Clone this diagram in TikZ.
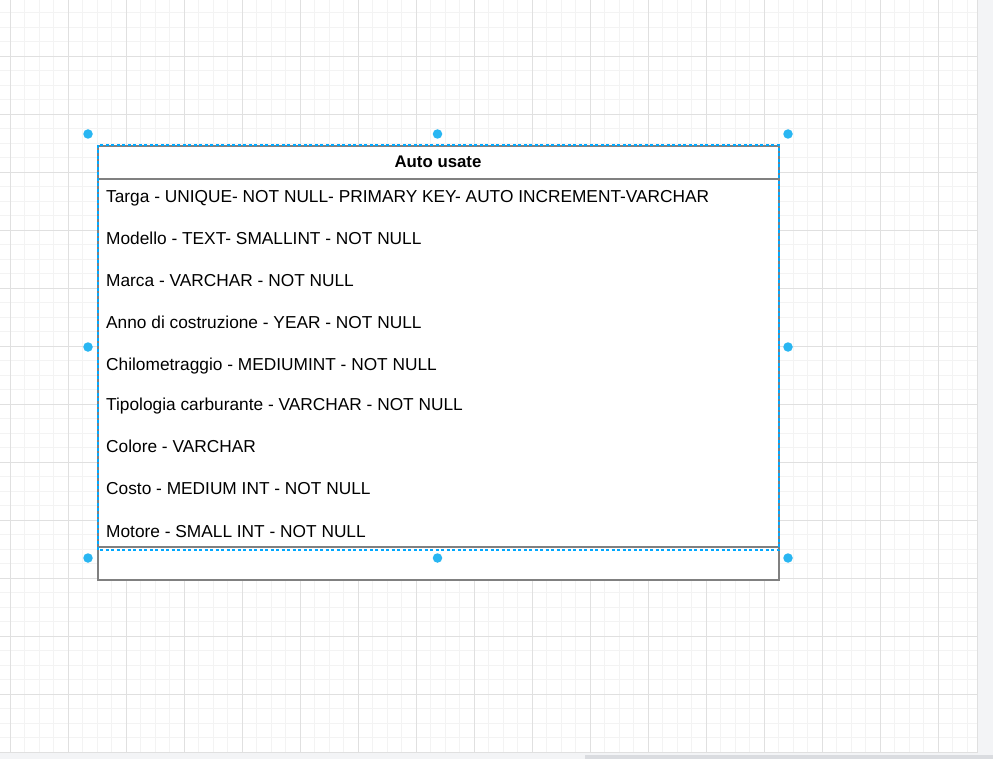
\documentclass[tikz,border=0pt]{standalone}
\usepackage{fontspec}
\setmainfont{Liberation Sans}
\definecolor{panelbg}{HTML}{F3F4F6}
\definecolor{scrollc}{HTML}{DADCE0}
\definecolor{minorc}{HTML}{F3F3F3}
\definecolor{majorc}{HTML}{E0E0E0}
\definecolor{tablec}{HTML}{808080}
\definecolor{selc}{HTML}{00A8FF}
\definecolor{handlec}{HTML}{29B6F2}
\begin{document}
\tikzset{
  minorline/.style={draw=minorc, line width=0.8pt},
  majorline/.style={draw=majorc, line width=0.9pt},
  tableline/.style={draw=tablec, line width=1.2pt},
  selline/.style={draw=selc, line width=1.1pt, dash pattern=on 3pt off 2.5pt},
  handle/.style={circle, fill=handlec, inner sep=0pt, minimum size=9.5pt},
  rowtext/.style={anchor=base west, inner sep=0pt, font=\fontsize{17.3}{20}\selectfont, text=black},
  titletext/.style={anchor=base, inner sep=0pt, font=\fontsize{16.8}{20}\selectfont\bfseries, text=black},
}
\begin{tikzpicture}[x=1pt,y=-1pt]
\useasboundingbox (0,0) rectangle (993,759);
\fill[panelbg] (0,0) rectangle (993,759);
\fill[white] (0,0) rectangle (977,752);
\fill[scrollc] (585,755) rectangle (993,759);
% grid
\foreach \x in {24.5,39,...,977} \draw[minorline] (\x,0) -- (\x,752);
\foreach \y in {12.5,27,...,752} \draw[minorline] (0,\y) -- (977,\y);
\foreach \x in {10,68,...,977} \draw[majorline] (\x,0) -- (\x,752);
\foreach \y in {56.5,114.5,...,752} \draw[majorline] (0,\y) -- (977,\y);
\draw[draw=majorc, line width=1pt] (977,0) -- (977,752) -- (0,752);
% table
\draw[tableline, fill=white] (98,146) rectangle (779,580);
\draw[tableline] (98,179) -- (779,179);
\draw[tableline] (98,547) -- (779,547);
\node[titletext] (title) at (438,168) {Auto usate};
\node[rowtext] (r1) at (106,202.5) {Targa - UNIQUE- NOT NULL- PRIMARY KEY- AUTO INCREMENT-VARCHAR};
\node[rowtext] (r2) at (106,244.5) {Modello - TEXT- SMALLINT - NOT NULL};
\node[rowtext] (r3) at (106,286.5) {Marca - VARCHAR - NOT NULL};
\node[rowtext] (r4) at (106,328.5) {Anno di costruzione - YEAR - NOT NULL};
\node[rowtext] (r5) at (106,370.5) {Chilometraggio - MEDIUMINT - NOT NULL};
\node[rowtext] (r6) at (106,410.5) {Tipologia carburante - VARCHAR - NOT NULL};
\node[rowtext] (r7) at (106,452.5) {Colore - VARCHAR};
\node[rowtext] (r8) at (106,494.5) {Costo - MEDIUM INT - NOT NULL};
\node[rowtext] (r9) at (106,537.5) {Motore - SMALL INT - NOT NULL};
% selection
\draw[selline] (98,145) rectangle (779,550);
\node[handle] (h1) at (88,134) {};
\node[handle] (h2) at (437.5,134) {};
\node[handle] (h3) at (788,134) {};
\node[handle] (h4) at (88,347) {};
\node[handle] (h5) at (788,347) {};
\node[handle] (h6) at (88,558) {};
\node[handle] (h7) at (437.5,558) {};
\node[handle] (h8) at (788,558) {};
\end{tikzpicture}
\end{document}
